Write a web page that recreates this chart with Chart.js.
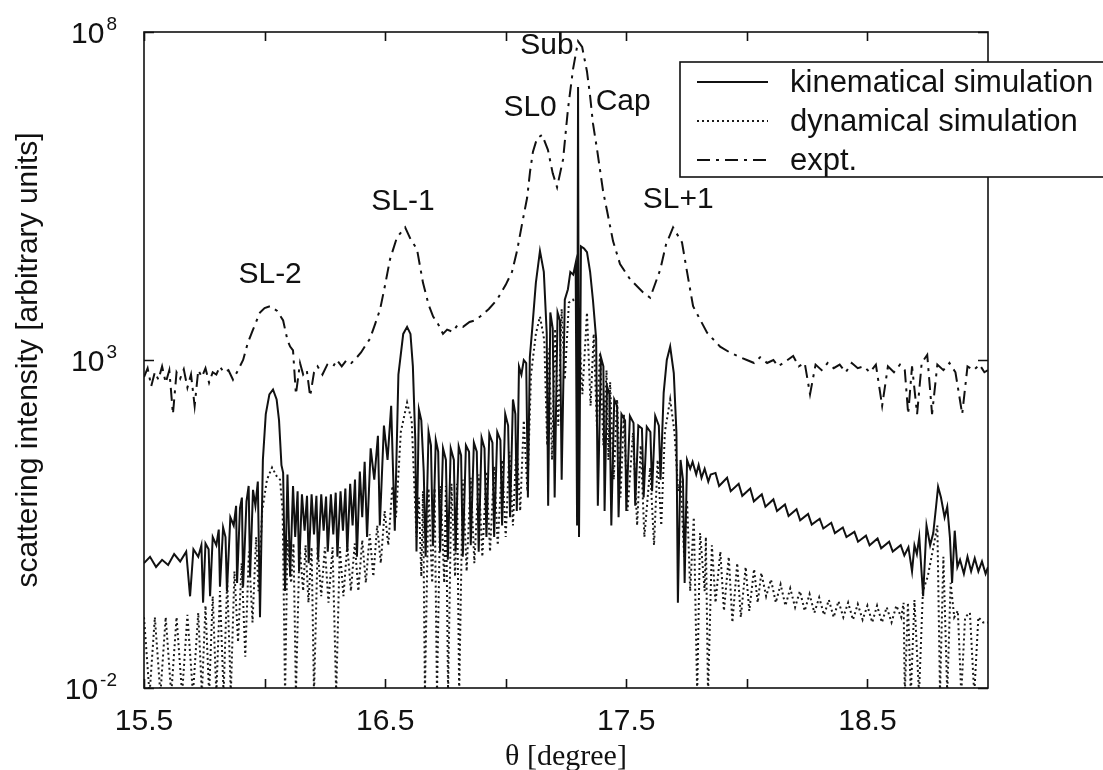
<!DOCTYPE html>
<html>
<head>
<meta charset="utf-8">
<script src="https://cdn.jsdelivr.net/npm/chart.js@4.4.0/dist/chart.umd.min.js"></script>
<style>
  html, body { margin: 0; padding: 0; background: #fff; }
  canvas { display: block; }
</style>
</head>
<body>
<canvas id="xrd" width="1103" height="770"></canvas>
<script>
// theta [degree], scattering intensity [arbitrary units]
const kinematical = [
  [15.500,0.8],[15.525,1.0],[15.550,0.7],[15.575,0.9],[15.600,0.75],[15.625,1.1],[15.650,0.85],[15.675,1.2],
  [15.691,0.25],[15.705,1.3],[15.725,1.0],[15.738,1.5],[15.745,0.2],[15.755,1.6],[15.768,1.3],[15.774,0.25],
  [15.785,2.0],[15.800,1.5],[15.810,2.6],[15.815,0.35],[15.828,2.8],[15.838,2.0],[15.844,0.3],[15.858,4.0],
  [15.872,3.0],[15.882,6.0],[15.886,0.4],[15.898,5.5],[15.906,8.0],[15.911,0.35],[15.925,7.0],[15.934,12],
  [15.940,0.5],[15.952,10.5],[15.962,6],[15.972,14],[15.981,0.12],[15.993,30],[16.005,150],[16.020,300],
  [16.035,355],[16.050,250],[16.060,120],[16.070,25],[16.077,19],[16.085,0.3],[16.095,18],[16.106,0.5],
  [16.118,12],[16.127,2.0],[16.137,10],[16.143,0.6],[16.155,9],[16.166,2.5],[16.176,8.5],[16.183,0.8],
  [16.195,9],[16.205,2.2],[16.215,8.5],[16.222,0.9],[16.235,9],[16.245,2.5],[16.255,8.3],[16.262,1.2],
  [16.275,9],[16.285,2.2],[16.295,9.5],[16.302,1.0],[16.315,10],[16.325,2.5],[16.335,11],[16.343,1.2],
  [16.355,13],[16.365,3],[16.375,15],[16.383,1.0],[16.395,20],[16.405,4],[16.415,28],[16.425,2],
  [16.440,45],[16.455,15],[16.470,70],[16.478,3],[16.495,100],[16.510,30],[16.525,200],[16.540,2.5],
  [16.555,600],[16.575,2500],[16.591,3200],[16.605,2500],[16.615,800],[16.625,60],[16.630,1.2],[16.640,175],
  [16.650,120],[16.660,20],[16.668,1.0],[16.680,80],[16.690,50],[16.698,1.5],[16.710,60],[16.720,40],
  [16.728,1.2],[16.740,45],[16.752,30],[16.760,0.9],[16.772,45],[16.785,30],[16.792,1.2],[16.805,48],
  [16.815,35],[16.822,1.0],[16.835,50],[16.848,40],[16.855,1.5],[16.868,55],[16.880,40],[16.888,1.2],
  [16.900,65],[16.912,45],[16.920,2],[16.932,75],[16.945,55],[16.952,2],[16.965,80],[16.978,60],
  [16.985,3],[16.998,150],[17.010,100],[17.018,4],[17.030,250],[17.040,150],[17.046,5],[17.055,790],
  [17.065,600],[17.075,1000],[17.085,900],[17.092,8],[17.100,1100],[17.110,3000],[17.125,15000],[17.142,46000],
  [17.158,22000],[17.170,2600],[17.176,6],[17.185,5300],[17.195,3000],[17.203,8],[17.215,5300],[17.225,4000],
  [17.232,15],[17.245,8300],[17.258,12000],[17.268,22000],[17.280,20000],[17.290,30000],[17.296,3],[17.300,1.45e7],
  [17.304,2],[17.312,54000],[17.325,50000],[17.337,44000],[17.350,22000],[17.362,8000],[17.375,2100],[17.382,6],
  [17.395,1100],[17.405,800],[17.410,5],[17.420,400],[17.430,300],[17.438,3],[17.450,250],[17.462,200],
  [17.468,4],[17.480,150],[17.495,120],[17.500,5],[17.515,140],[17.530,110],[17.537,6],[17.550,100],
  [17.565,90],[17.572,8],[17.585,96],[17.600,80],[17.607,10],[17.620,140],[17.635,100],[17.642,15],
  [17.655,316],[17.668,1000],[17.682,1600],[17.697,630],[17.708,78],[17.714,0.2],[17.725,30],[17.735,15],
  [17.742,0.4],[17.752,30],[17.765,22],[17.775,28],[17.790,18],[17.800,25],[17.812,16],[17.825,22],
  [17.840,14],[17.850,18],[17.870,19],[17.885,12],[17.918,16],[17.933,10],[17.966,13],[17.981,8.5],
  [18.014,11],[18.029,7],[18.062,9],[18.077,5.8],[18.110,7.5],[18.125,5],[18.158,6.3],[18.173,4.2],
  [18.206,5.3],[18.221,3.6],[18.254,4.5],[18.269,3.1],[18.302,3.8],[18.317,2.7],[18.350,3.3],[18.365,2.3],
  [18.398,2.8],[18.413,2.0],[18.446,2.4],[18.461,1.7],[18.494,2.1],[18.509,1.5],[18.542,1.9],[18.557,1.35],
  [18.590,1.7],[18.605,1.2],[18.638,1.5],[18.653,1.05],[18.670,1.4],[18.685,0.6],[18.695,1.5],[18.705,1.1],
  [18.715,2.0],[18.731,0.25],[18.745,3.0],[18.760,1.5],[18.773,2.3],[18.785,6],[18.793,11.7],[18.805,8],
  [18.820,4],[18.831,5.8],[18.842,2],[18.851,0.4],[18.862,2.5],[18.873,0.7],[18.884,0.9],[18.900,0.55],
  [18.915,1.0],[18.930,0.6],[18.945,0.95],[18.960,0.6],[18.975,0.85],[18.990,0.55],[19.000,0.7]
];

const dynamical = [
  [15.500,0.12],[15.523,0.008],[15.545,0.12],[15.568,0.008],[15.590,0.12],[15.613,0.008],[15.635,0.12],[15.658,0.008],
  [15.680,0.13],[15.703,0.008],[15.725,0.14],[15.740,0.008],[15.755,0.18],[15.770,0.008],[15.785,0.25],[15.800,0.008],
  [15.815,0.3],[15.830,0.008],[15.845,0.45],[15.860,0.008],[15.875,0.6],[15.890,0.05],[15.905,0.8],[15.920,0.03],
  [15.935,1.2],[15.950,0.1],[15.965,2],[15.975,0.3],[15.990,5],[16.010,15],[16.031,23],[16.050,17],
  [16.064,15],[16.075,5],[16.085,0.008],[16.095,1.8],[16.110,0.4],[16.120,1.6],[16.130,0.008],[16.145,1.5],
  [16.160,0.3],[16.170,1.5],[16.182,0.2],[16.195,1.4],[16.205,0.008],[16.220,1.4],[16.235,0.25],[16.250,1.4],
  [16.265,0.2],[16.282,1.4],[16.297,0.008],[16.312,1.4],[16.327,0.25],[16.343,1.5],[16.358,0.3],[16.374,1.6],
  [16.389,0.3],[16.405,1.8],[16.420,0.4],[16.436,2.2],[16.451,0.5],[16.467,3],[16.482,0.8],[16.498,5],
  [16.513,1.5],[16.530,12],[16.545,4],[16.565,80],[16.591,224],[16.610,120],[16.622,10],[16.630,2],
  [16.640,8],[16.650,0.5],[16.657,10],[16.665,0.008],[16.680,11],[16.695,0.4],[16.705,11],[16.715,0.008],
  [16.730,12],[16.745,0.4],[16.752,12],[16.761,0.008],[16.775,13],[16.790,0.5],[16.798,13],[16.807,0.008],
  [16.822,15],[16.838,0.6],[16.855,16],[16.870,0.8],[16.888,18],[16.903,1.0],[16.920,20],[16.935,1.2],
  [16.952,24],[16.967,1.5],[16.985,30],[17.000,2],[17.015,40],[17.030,3],[17.045,56],[17.060,5],
  [17.075,120],[17.090,10],[17.105,600],[17.125,2500],[17.142,4600],[17.160,2000],[17.172,50],[17.180,1500],
  [17.192,30],[17.205,3000],[17.218,100],[17.232,6000],[17.245,500],[17.262,7500],[17.279,8300],[17.300,6500],
  [17.318,300],[17.337,5300],[17.352,200],[17.365,2500],[17.378,100],[17.391,1300],[17.405,50],[17.418,700],
  [17.426,30],[17.433,460],[17.448,15],[17.462,250],[17.476,8],[17.490,150],[17.505,5],[17.528,78],
  [17.545,3],[17.560,50],[17.575,2],[17.599,23],[17.615,1.5],[17.630,30],[17.645,3],[17.660,80],
  [17.682,250],[17.700,78],[17.715,10],[17.725,15],[17.740,1],[17.752,7.4],[17.765,0.3],[17.780,4],
  [17.794,0.008],[17.806,2.3],[17.825,0.3],[17.830,2],[17.839,0.008],[17.855,1.5],[17.870,0.2],[17.890,1.2],
  [17.905,0.15],[17.925,1.0],[17.940,0.1],[17.960,0.8],[17.975,0.12],[17.995,0.7],[18.010,0.15],[18.030,0.65],
  [18.045,0.2],[18.060,0.57],[18.080,0.25],[18.100,0.45],[18.120,0.2],[18.140,0.38],[18.160,0.18],[18.180,0.33],
  [18.200,0.17],[18.220,0.3],[18.240,0.15],[18.260,0.27],[18.280,0.14],[18.300,0.24],[18.320,0.13],[18.340,0.22],
  [18.360,0.12],[18.380,0.21],[18.400,0.12],[18.420,0.2],[18.440,0.11],[18.460,0.19],[18.480,0.11],[18.500,0.18],
  [18.520,0.1],[18.540,0.18],[18.560,0.1],[18.580,0.17],[18.600,0.1],[18.620,0.18],[18.640,0.12],[18.650,0.2],
  [18.655,0.008],[18.668,0.2],[18.680,0.008],[18.695,0.22],[18.714,0.008],[18.730,0.3],[18.750,0.5],[18.770,1.2],
  [18.790,3],[18.801,0.008],[18.815,1.0],[18.831,0.008],[18.845,0.4],[18.860,0.12],[18.875,0.15],[18.889,0.008],
  [18.905,0.12],[18.925,0.14],[18.943,0.008],[18.960,0.12],[18.980,0.1],[19.000,0.1]
];

const experiment = [
  [15.500,550],[15.515,750],[15.530,400],[15.545,650],[15.560,500],[15.575,800],[15.590,450],[15.605,700],
  [15.620,150],[15.635,650],[15.650,520],[15.665,720],[15.680,380],[15.695,600],[15.710,200],[15.725,700],
  [15.740,550],[15.755,750],[15.770,450],[15.785,650],[15.800,600],[15.815,800],[15.830,650],[15.850,700],
  [15.869,500],[15.890,700],[15.911,1000],[15.930,1800],[15.952,2900],[15.981,5300],[16.000,6200],[16.023,6600],
  [16.052,5600],[16.077,4000],[16.095,2000],[16.106,1600],[16.118,1400],[16.130,300],[16.147,900],[16.160,600],
  [16.175,700],[16.189,280],[16.205,650],[16.220,800],[16.240,600],[16.260,850],[16.284,790],[16.300,1000],
  [16.320,800],[16.340,1000],[16.360,900],[16.383,1100],[16.400,1300],[16.420,1700],[16.437,2100],[16.458,3500],
  [16.479,5900],[16.500,14000],[16.520,34000],[16.549,74000],[16.583,105000],[16.605,70000],[16.632,49000],[16.657,15000],
  [16.680,7000],[16.699,4600],[16.720,3500],[16.740,2500],[16.757,2900],[16.780,2700],[16.800,3400],[16.823,3200],
  [16.850,3800],[16.870,4000],[16.894,4600],[16.930,6000],[16.964,8300],[17.000,14000],[17.026,22000],[17.047,46000],
  [17.068,1.2e5],[17.089,3e5],[17.101,7.5e5],[17.113,1.5e6],[17.130,2.4e6],[17.151,2.7e6],[17.175,1.6e6],[17.195,7e5],
  [17.213,4.3e5],[17.238,1.15e6],[17.258,6.6e6],[17.279,2.7e7],[17.300,7.2e7],[17.317,5.9e7],[17.337,2.5e7],[17.350,1.05e7],
  [17.362,4e6],[17.379,1.6e6],[17.404,3.7e5],[17.420,1.9e5],[17.445,6.5e4],[17.474,2.9e4],[17.516,1.7e4],[17.570,1.07e4],
  [17.599,8900],[17.641,24000],[17.665,58000],[17.694,105000],[17.731,62000],[17.752,22000],[17.777,6600],[17.835,2600],
  [17.889,1600],[17.930,1300],[17.972,1100],[18.000,1000],[18.030,900],[18.055,1100],[18.084,900],[18.110,1000],
  [18.130,800],[18.160,950],[18.192,1150],[18.215,800],[18.240,900],[18.262,300],[18.285,850],[18.310,700],
  [18.335,900],[18.360,750],[18.385,850],[18.410,650],[18.435,900],[18.460,750],[18.485,800],[18.510,650],
  [18.535,850],[18.561,200],[18.585,800],[18.610,650],[18.635,850],[18.655,700],[18.669,150],[18.685,800],
  [18.706,150],[18.725,900],[18.748,1200],[18.768,150],[18.790,850],[18.815,700],[18.840,900],[18.865,650],
  [18.893,150],[18.915,800],[18.940,700],[18.965,850],[18.985,650],[19.000,700]
];

const seriesNames = ['kinematical simulation', 'dynamical simulation', 'expt.'];
const xTickValues = [15.5, 16.0, 16.5, 17.0, 17.5, 18.0, 18.5];
const xTickLabels = ['15.5', '16.5', '17.5', '18.5'];
const yTickValues = [1e-2, 1e3, 1e8];
// peak labels, anchored at [theta, intensity]
const peakLabels = [
  ['SL-2', 16.023, 2.0e4],
  ['SL-1', 16.574, 2.6e5],
  ['SL0', 17.101, 7e6],
  ['Sub', 17.171, 6.2e7],
  ['Cap', 17.487, 8.5e6],
  ['SL+1', 17.715, 2.8e5]
];

const SANS = '"Liberation Sans", Arial, Helvetica, sans-serif';
const SERIF = '"Liberation Serif", "Times New Roman", serif';
const INK = '#111';

function toPoints(rows) {
    return rows.map(r => ({ x: r[0], y: r[1] }));
}

// Frame, inward ticks, labels and legend drawn like the MATLAB original
const decorations = {
    id: 'decorations',
    afterDatasetsDraw(chart) {
        const { ctx, chartArea: a, scales: { x, y } } = chart;
        ctx.save();
        ctx.strokeStyle = INK;
        ctx.fillStyle = INK;
        ctx.lineWidth = 1.6;
        ctx.setLineDash([]);
        ctx.strokeRect(a.left, a.top, a.right - a.left, a.bottom - a.top);

        // Inward ticks
        ctx.beginPath();
        xTickValues.forEach(v => {
            const px = Math.round(x.getPixelForValue(v)) + 0.5;
            ctx.moveTo(px, a.bottom); ctx.lineTo(px, a.bottom - 9);
            ctx.moveTo(px, a.top); ctx.lineTo(px, a.top + 9);
        });
        yTickValues.forEach(v => {
            const py = Math.round(y.getPixelForValue(v)) + 0.5;
            ctx.moveTo(a.left, py); ctx.lineTo(a.left + 10, py);
            ctx.moveTo(a.right, py); ctx.lineTo(a.right - 10, py);
        });
        ctx.stroke();

        // X tick labels
        ctx.font = '30px ' + SANS;
        ctx.textAlign = 'center';
        ctx.textBaseline = 'middle';
        xTickLabels.forEach(t => {
            ctx.fillText(t, x.getPixelForValue(parseFloat(t)), a.bottom + 34);
        });

        // Y tick labels as 10 with superscript exponent
        yTickValues.forEach(v => {
            const py = y.getPixelForValue(v);
            const exp = String(Math.round(Math.log10(v)));
            const right = a.left - 27;
            ctx.font = '19px ' + SANS;
            ctx.textAlign = 'right';
            ctx.textBaseline = 'alphabetic';
            const ew = ctx.measureText(exp).width;
            ctx.fillText(exp, right, py - 2);
            ctx.font = '30px ' + SANS;
            ctx.fillText('10', right - ew - 2, py + 11);
        });

        // Axis titles
        ctx.textAlign = 'center';
        ctx.textBaseline = 'middle';
        ctx.font = '30px ' + SERIF;
        ctx.fillText('\u03b8 [degree]', (a.left + a.right) / 2, a.bottom + 69);
        ctx.save();
        ctx.translate(29, (a.top + a.bottom) / 2);
        ctx.rotate(-Math.PI / 2);
        ctx.font = '30px ' + SANS;
        ctx.fillText('scattering intensity [arbitrary units]', 0, 0);
        ctx.restore();

        // Peak labels
        ctx.font = '30px ' + SANS;
        peakLabels.forEach(([t, th, val]) => {
            ctx.fillText(t, x.getPixelForValue(th), y.getPixelForValue(val));
        });

        // Legend box
        const lx = a.right - 308, ly = a.top + 30, lh = 115;
        ctx.fillStyle = '#fff';
        ctx.fillRect(lx, ly, chart.width - lx + 10, lh);
        ctx.strokeStyle = INK;
        ctx.lineWidth = 1.6;
        ctx.strokeRect(lx, ly, chart.width - lx + 10, lh);
        chart.data.datasets.forEach((ds, i) => {
            const ry = ly + 20 + i * 39;
            ctx.beginPath();
            ctx.setLineDash(ds.borderDash || []);
            ctx.lineWidth = ds.borderWidth;
            ctx.strokeStyle = ds.borderColor;
            ctx.moveTo(lx + 17, ry);
            ctx.lineTo(lx + 88, ry);
            ctx.stroke();
            ctx.setLineDash([]);
            ctx.fillStyle = INK;
            ctx.font = '31px ' + SANS;
            ctx.textAlign = 'left';
            ctx.fillText(ds.label, lx + 110, ry + 1);
        });
        ctx.restore();
    }
};

const ctx = document.getElementById('xrd').getContext('2d');
const xrdChart = new Chart(ctx, {
    type: 'line',
    data: {
        datasets: [
            {
                label: seriesNames[0],
                data: toPoints(kinematical),
                borderColor: INK,
                borderWidth: 2,
                pointRadius: 0,
                tension: 0
            },
            {
                label: seriesNames[1],
                data: toPoints(dynamical),
                borderColor: '#1a1a1a',
                borderWidth: 2,
                borderDash: [2, 3],
                pointRadius: 0,
                tension: 0
            },
            {
                label: seriesNames[2],
                data: toPoints(experiment),
                borderColor: INK,
                borderWidth: 2,
                borderDash: [13, 6, 3, 6],
                pointRadius: 0,
                tension: 0
            }
        ]
    },
    options: {
        responsive: false,
        animation: false,
        devicePixelRatio: 1,
        layout: {
            padding: { top: 32, right: 115, left: 0, bottom: 0 }
        },
        scales: {
            x: {
                type: 'linear',
                min: 15.5,
                max: 19,
                grid: { display: false },
                border: { display: false },
                ticks: { display: false },
                afterFit: scale => { scale.height = 82; }
            },
            y: {
                type: 'logarithmic',
                min: 0.01,
                max: 1e8,
                grid: { display: false },
                border: { display: false },
                ticks: { display: false },
                afterBuildTicks: scale => {
                    scale.ticks = yTickValues.map(v => ({ value: v }));
                },
                afterFit: scale => { scale.width = 144; }
            }
        },
        plugins: {
            legend: { display: false },
            tooltip: { enabled: false }
        }
    },
    plugins: [decorations]
});
</script>
</body>
</html>
